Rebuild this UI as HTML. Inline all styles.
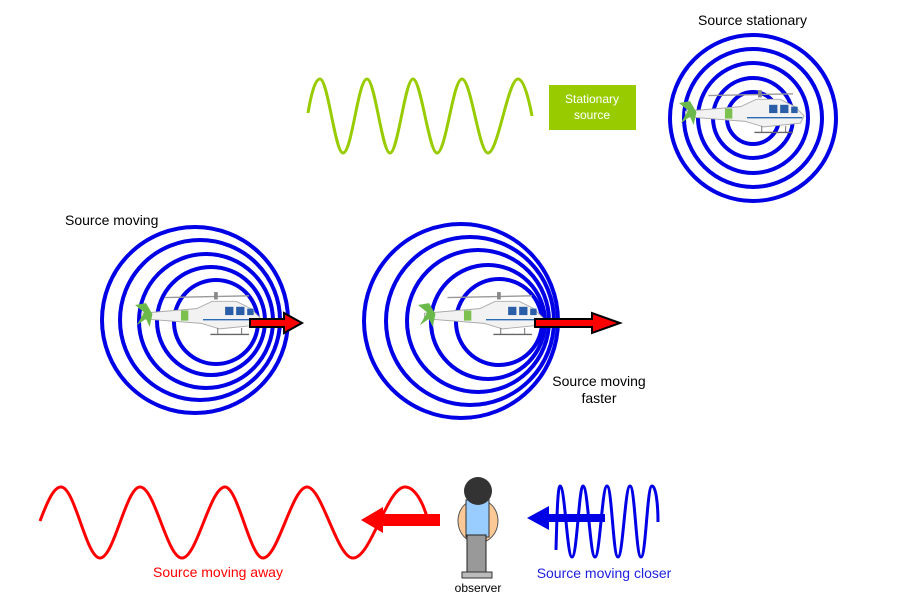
<!DOCTYPE html>
<html><head><style>
body{margin:0;background:#fff}
svg{display:block}
text{font-family:"Liberation Sans",sans-serif;font-size:14px}
</style></head><body>
<svg width="899" height="615" viewBox="0 0 899 615" xmlns="http://www.w3.org/2000/svg">
<defs>
<g id="heli">
  <line x1="-30" y1="-20" x2="62" y2="-22" stroke="#999" stroke-width="1.5"/>
  <rect x="24" y="-26" width="4" height="8" fill="#888"/>
  <path d="M-55 -3 L5 -8 L22 -16 L48 -16 L64 -8 L74 2 L70 10 L30 14 L10 8 L-55 3Z" fill="#f2f2f2" stroke="#aaa" stroke-width="1"/>
  <path d="M12 4 L72 4" stroke="#2a6ab0" stroke-width="1.5"/>
  <rect x="36" y="-10" width="9" height="9" fill="#2a5ea8"/>
  <rect x="48" y="-10" width="9" height="9" fill="#2a5ea8"/>
  <rect x="60" y="-8" width="7" height="7" fill="#2a5ea8"/>
  <path d="M-62 -12 L-52 -4 L-60 10 L-50 3 L-46 12 L-43 -2 L-50 -14Z" fill="#6ab94a"/>
  <rect x="-12" y="-6" width="8" height="11" fill="#7cc04f"/>
  <line x1="20" y1="20" x2="62" y2="20" stroke="#666" stroke-width="1.5"/>
  <line x1="28" y1="13" x2="28" y2="20" stroke="#666"/><line x1="54" y1="13" x2="54" y2="20" stroke="#666"/>
</g>
</defs>

<!-- top right circles -->
<g fill="none" stroke="#0000e6" stroke-width="4">
<circle cx="753" cy="118" r="83"/><circle cx="753" cy="118" r="69"/><circle cx="753" cy="118" r="55"/><circle cx="753" cy="118" r="40"/><circle cx="753" cy="118" r="26"/>
</g>
<use href="#heli" transform="translate(736 114) scale(0.92)"/>
<text x="698" y="25">Source stationary</text>

<!-- green wave -->
<path fill="none" stroke="#99cc00" stroke-width="3" d="M308 113 C311 95 315 79 320 79 C328 79 335 153 343 153 C352 153 358 79 367 79 C375 79 382 153 390 153 C398 153 405 79 413 79 C421 79 429 153 437 153 C446 153 453 79 462 79 C471 79 479 153 488 153 C498 153 508 79 518 79 C524 79 529 100 532 116"/>
<rect x="549" y="85" width="87" height="45" fill="#99cc00"/>
<text x="592" y="103" fill="#fff" text-anchor="middle" style="font-size:12px">Stationary</text>
<text x="592" y="119" fill="#fff" text-anchor="middle" style="font-size:12px">source</text>

<!-- moving -->
<text x="65" y="225">Source moving</text>
<g fill="none" stroke="#0000e6" stroke-width="4">
<circle cx="195" cy="320" r="93"/><circle cx="200" cy="320" r="80"/><circle cx="206" cy="321" r="67"/><circle cx="211" cy="321" r="54"/><circle cx="216" cy="322" r="42"/>
</g>
<use href="#heli" transform="translate(192 316) scale(0.92)"/>
<path d="M250 319 L284 319 L284 313 L302 323 L284 333 L284 327 L250 327Z" fill="#f00" stroke="#000" stroke-width="2"/>

<!-- faster -->
<g fill="none" stroke="#0000e6" stroke-width="4">
<circle cx="461" cy="321" r="97"/><circle cx="470" cy="321" r="84"/><circle cx="478" cy="321" r="71"/><circle cx="488" cy="322" r="57"/><circle cx="499" cy="322" r="43"/>
</g>
<use href="#heli" transform="translate(475 316) scale(0.92)"/>
<path d="M535 319 L592 319 L592 313 L620 323 L592 333 L592 327 L535 327Z" fill="#f00" stroke="#000" stroke-width="2"/>
<text x="599" y="386" text-anchor="middle">Source moving</text>
<text x="599" y="403" text-anchor="middle">faster</text>

<!-- red wave -->
<path fill="none" stroke="#f00" stroke-width="3" d="M40 521 C48 500 54 487 61 487 C75 487 86 558 100 558 C114 558 126 487 140 487 C155 487 167 558 182 558 C197 558 210 487 225 487 C238 487 250 558 263 558 C278 558 292 487 307 487 C322 487 337 558 353 558 C371 558 387 487 405 487 C414 487 422 500 427 517"/>
<path d="M440 514 L383 514 L383 507 L361 520 L383 533 L383 526 L440 526Z" fill="#f00"/>
<text x="218" y="577" fill="#f00" text-anchor="middle">Source moving away</text>

<!-- observer -->
<ellipse cx="478" cy="521" rx="20" ry="22" fill="#fbc896" stroke="#555"/>
<rect x="466" y="500" width="23" height="37" fill="#99ccff" stroke="#333"/>
<rect x="467" y="535" width="19" height="37" fill="#999" stroke="#222"/>
<rect x="462" y="572" width="30" height="6" fill="#bbb" stroke="#333"/>
<circle cx="478" cy="491" r="14" fill="#333"/>
<text x="478" y="592" text-anchor="middle" style="font-size:12px">observer</text>

<!-- blue wave -->
<path fill="none" stroke="#0000e6" stroke-width="3" d="M556 550 C557 510 558 486 560 486 C565 486 567 557 572 557 C577 557 579 486 583 486 C588 486 590 557 595 557 C600 557 602 486 607 486 C612 486 613 557 618 557 C623 557 625 486 630 486 C635 486 636 557 641 557 C646 557 647 486 652 486 C656 486 658 505 658 522"/>
<path d="M605 514 L549 514 L549 506 L527 518 L549 530 L549 522 L605 522Z" fill="#0000e6"/>
<text x="604" y="578" fill="#2020e0" text-anchor="middle">Source moving closer</text>
</svg>
</body></html>
